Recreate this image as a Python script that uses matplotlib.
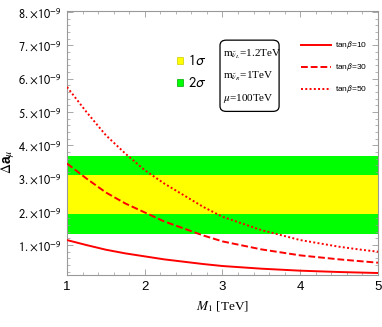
import matplotlib.pyplot as plt
from matplotlib.ticker import MultipleLocator, FixedLocator
from matplotlib.patches import FancyBboxPatch, Rectangle

# values
m1 = [1.0, 1.25, 1.5, 1.75, 2.0, 2.25, 2.5, 2.75, 3.0, 3.25, 3.5, 3.75, 4.0, 4.25, 4.5, 4.75, 5.0]
tb10 = [1.15, 1.00, 0.86, 0.75, 0.66, 0.57, 0.50, 0.43, 0.37, 0.33, 0.29, 0.26, 0.23, 0.21, 0.19, 0.175, 0.16]
tb30 = [3.45, 3.00, 2.58, 2.25, 1.98, 1.71, 1.50, 1.29, 1.11, 0.99, 0.87, 0.78, 0.69, 0.63, 0.57, 0.52, 0.47]
tb50 = [5.75, 5.00, 4.30, 3.75, 3.25, 2.85, 2.50, 2.15, 1.85, 1.65, 1.45, 1.30, 1.15, 1.05, 0.95, 0.87, 0.80]
band_1s = (1.92, 3.10)
band_2s = (1.33, 3.69)
yticks = [1, 2, 3, 4, 5, 6, 7, 8]

plt.rcParams['mathtext.fontset'] = 'stix'

fig = plt.figure(figsize=(3.82, 3.27), dpi=100)
ax = fig.add_axes([0.1754, 0.159, 0.8141, 0.807])

ax.axhspan(band_2s[0] * 1e-9, band_2s[1] * 1e-9, color='#00ff00', lw=0, zorder=1)
ax.axhspan(band_1s[0] * 1e-9, band_1s[1] * 1e-9, color='#ffff00', lw=0, zorder=2)

ax.plot(m1, [v * 1e-9 for v in tb10], color='red', lw=1.4, ls='-', zorder=3)
ax.plot(m1, [v * 1e-9 for v in tb30], color='red', lw=1.4, ls=(0, (3.5, 1.5)), zorder=3)
ax.plot(m1, [v * 1e-9 for v in tb50], color='red', lw=1.4, ls=(0, (1, 1.2)), zorder=3)

ax.set_xlim(1, 5)
ax.set_ylim(0.1e-9, 8.03e-9)

ax.xaxis.set_major_locator(FixedLocator([1, 2, 3, 4, 5]))
ax.xaxis.set_minor_locator(MultipleLocator(0.2))
ax.yaxis.set_major_locator(FixedLocator([v * 1e-9 for v in yticks]))
ax.yaxis.set_minor_locator(MultipleLocator(0.2e-9))
ax.set_xticklabels(['1', '2', '3', '4', '5'], fontsize=9.5, family='Liberation Sans')
ax.set_yticklabels([r'$%d.\!\times\!10^{-9}$' % v for v in yticks], fontsize=8.8)
for t in ax.get_yticklabels():
    t.set_math_fontfamily('stixsans')

ax.tick_params(which='both', direction='in', top=True, right=True, color='#999999')
ax.tick_params(which='major', length=4, width=0.6, pad=4)
ax.tick_params(which='minor', length=2, width=0.5)
for s in ax.spines.values():
    s.set_color('#999999')
    s.set_linewidth(0.8)

ax.set_xlabel(r'$M_1$ [TeV]', fontsize=9.5, family='Liberation Serif', labelpad=5)
ax.set_ylabel(r'$\Delta$a$_{\mu}$', fontsize=10, fontweight='bold', family='Liberation Sans')
ax.yaxis.set_label_coords(-0.16, 0.43)

# sigma legend
ax.add_patch(Rectangle((0.355, 0.80), 0.017, 0.026, transform=ax.transAxes,
                       facecolor='#ffff00', edgecolor='#cccc00', lw=0.5, zorder=5))
ax.add_patch(Rectangle((0.355, 0.715), 0.017, 0.026, transform=ax.transAxes,
                       facecolor='#00ff00', edgecolor='#00aa00', lw=0.5, zorder=5))
ax.text(0.39, 0.814, r'$1\sigma$', transform=ax.transAxes, fontsize=10.5, va='center',
        math_fontfamily='stixsans')
ax.text(0.39, 0.729, r'$2\sigma$', transform=ax.transAxes, fontsize=10.5, va='center',
        math_fontfamily='stixsans')

# parameter box
ax.add_patch(FancyBboxPatch((0.492, 0.62), 0.19, 0.27, transform=ax.transAxes,
                            boxstyle='round,pad=0,rounding_size=0.02',
                            facecolor='white', edgecolor='black', lw=0.9, zorder=5))
ax.text(0.502, 0.838, r'm$_{\tilde{\nu}_L}$=1.2TeV', transform=ax.transAxes, fontsize=8,
        va='center', family='Liberation Serif', zorder=6)
ax.text(0.502, 0.752, r'm$_{\tilde{\nu}_R}$=1TeV', transform=ax.transAxes, fontsize=8,
        va='center', family='Liberation Serif', zorder=6)
ax.text(0.502, 0.668, r'$\mu$=100TeV', transform=ax.transAxes, fontsize=8,
        va='center', family='Liberation Serif', zorder=6)

# tan beta legend
styles = ['-', (0, (3.5, 1.5)), (0, (1, 1.2))]
labels = [r'tan$\beta$=10', r'tan$\beta$=30', r'tan$\beta$=50']
for i in range(3):
    yy = 0.87 - i * 0.083
    ax.plot([0.752, 0.848], [yy, yy], transform=ax.transAxes, color='red', lw=1.4, ls=styles[i])
    ax.text(0.862, yy, labels[i], transform=ax.transAxes, fontsize=6,
            va='center', family='Liberation Sans', math_fontfamily='stixsans')

fig.savefig('out.png', dpi=100)
